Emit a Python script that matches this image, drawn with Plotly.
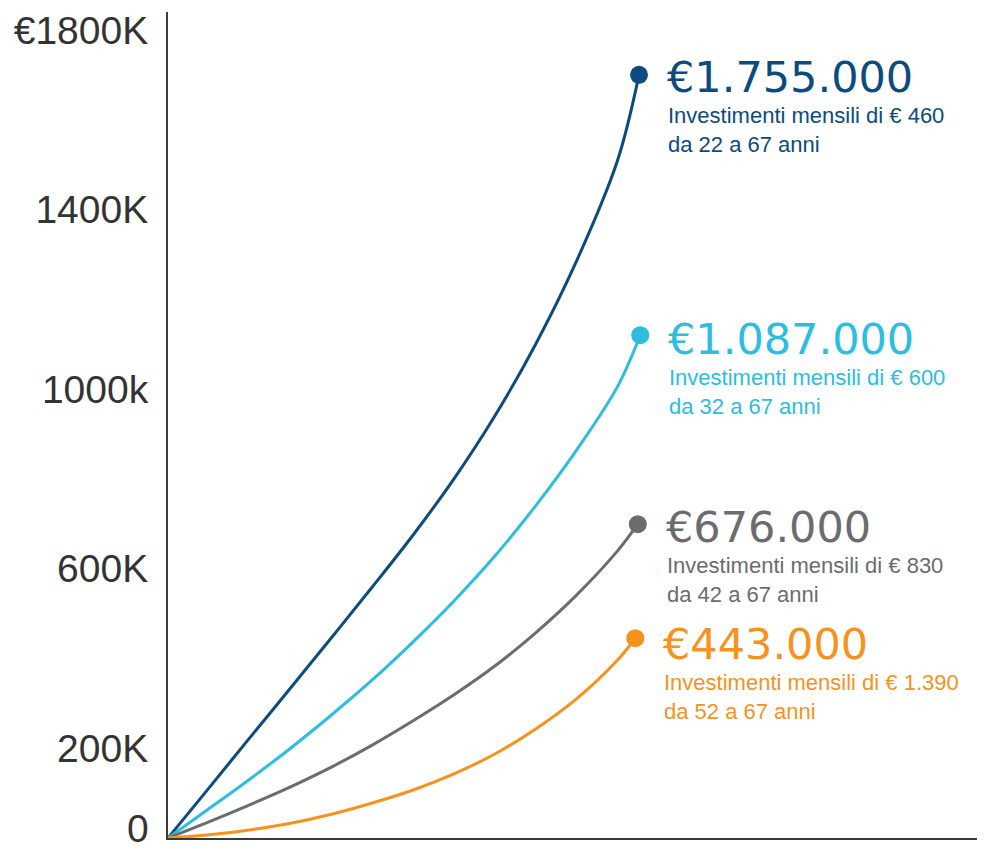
import plotly.graph_objects as go

# ---- data (values in thousands of euro, x in arbitrary time units) ----
x_dark = [0, 5, 10, 15, 20, 25, 30, 35, 40, 45, 50, 55, 57.65]
y_dark = [0, 111, 223, 334, 446, 559, 675, 800, 940, 1100, 1285, 1508, 1700]

x_light = [0, 5, 10, 15, 20, 25, 30, 35, 40, 45, 50, 55, 57.8]
y_light = [0, 65, 131, 200, 274, 352, 437, 528, 628, 740, 864, 1005, 1120]

x_gray = [0, 5, 10, 15, 20, 25, 30, 35, 40, 45, 50, 55, 57.5]
y_gray = [0, 36, 74, 114, 158, 207, 261, 319, 383, 457, 541, 639, 699]

x_orange = [0, 5, 10, 15, 20, 25, 30, 35, 40, 45, 50, 55, 57.2]
y_orange = [0, 7, 18, 33, 53, 78, 107, 143, 187, 243, 310, 396, 445]

big_labels = ["€1.755.000", "€1.087.000", "€676.000", "€443.000"]
small_labels = [
    "Investimenti mensili di € 460<br>da 22 a 67 anni",
    "Investimenti mensili di € 600<br>da 32 a 67 anni",
    "Investimenti mensili di € 830<br>da 42 a 67 anni",
    "Investimenti mensili di € 1.390<br>da 52 a 67 anni",
]
colors = ["#0c4b7d", "#2cbde0", "#6b6c6e", "#f7921e"]

tick_vals = [200, 600, 1000, 1400, 1800]
tick_text = ["200K", "600K", "1000k", "1400K", "€1800K"]
zero_label = "0"

series = [(x_dark, y_dark), (x_light, y_light), (x_gray, y_gray), (x_orange, y_orange)]
label_dy = [0, -2, -1, -4]  # small vertical nudges of the text blocks (px)

fig = go.Figure()
for (xs, ys), c in zip(series, colors):
    fig.add_trace(go.Scatter(
        x=xs, y=ys, mode="lines", line=dict(color=c, width=3, shape="spline"),
        hoverinfo="skip", showlegend=False))
    fig.add_trace(go.Scatter(
        x=[xs[-1]], y=[ys[-1]], mode="markers",
        marker=dict(color=c, size=18), hoverinfo="skip", showlegend=False))

for (xs, ys), c, big, small, dy in zip(series, colors, big_labels, small_labels, label_dy):
    fig.add_annotation(
        x=xs[-1], y=ys[-1], xref="x", yref="y", text=big, showarrow=False,
        xanchor="left", yanchor="middle", xshift=26, yshift=-2 + dy,
        font=dict(family="DejaVu Sans", size=43, color=c))
    fig.add_annotation(
        x=xs[-1], y=ys[-1], xref="x", yref="y", text=small, showarrow=False,
        xanchor="left", yanchor="top", xshift=27, yshift=-26 + dy, align="left",
        font=dict(family="Liberation Sans", size=22, color=c))

# "0" tick label, kept inside the page
fig.add_annotation(
    x=0, y=0, xref="paper", yref="paper", text=zero_label, showarrow=False,
    xanchor="right", yanchor="bottom", xshift=-17, yshift=-14,
    font=dict(family="Liberation Sans", size=39, color="#333333"))

fig.update_layout(
    width=977, height=844,
    margin=dict(l=160, r=0, t=4, b=14),
    paper_bgcolor="white", plot_bgcolor="white",
    xaxis=dict(range=[0, 100], showgrid=False, zeroline=False, showticklabels=False,
               ticks="", showline=True, linecolor="#3a3a3a", linewidth=2),
    yaxis=dict(range=[0, 1840], showgrid=False, zeroline=False,
               tickmode="array", tickvals=tick_vals, ticktext=tick_text,
               ticks="", ticklabelstandoff=10, automargin=False,
               tickfont=dict(family="Liberation Sans", size=39, color="#333333"),
               showline=True, linecolor="#3a3a3a", linewidth=2),
)

fig.write_html("out.html")
